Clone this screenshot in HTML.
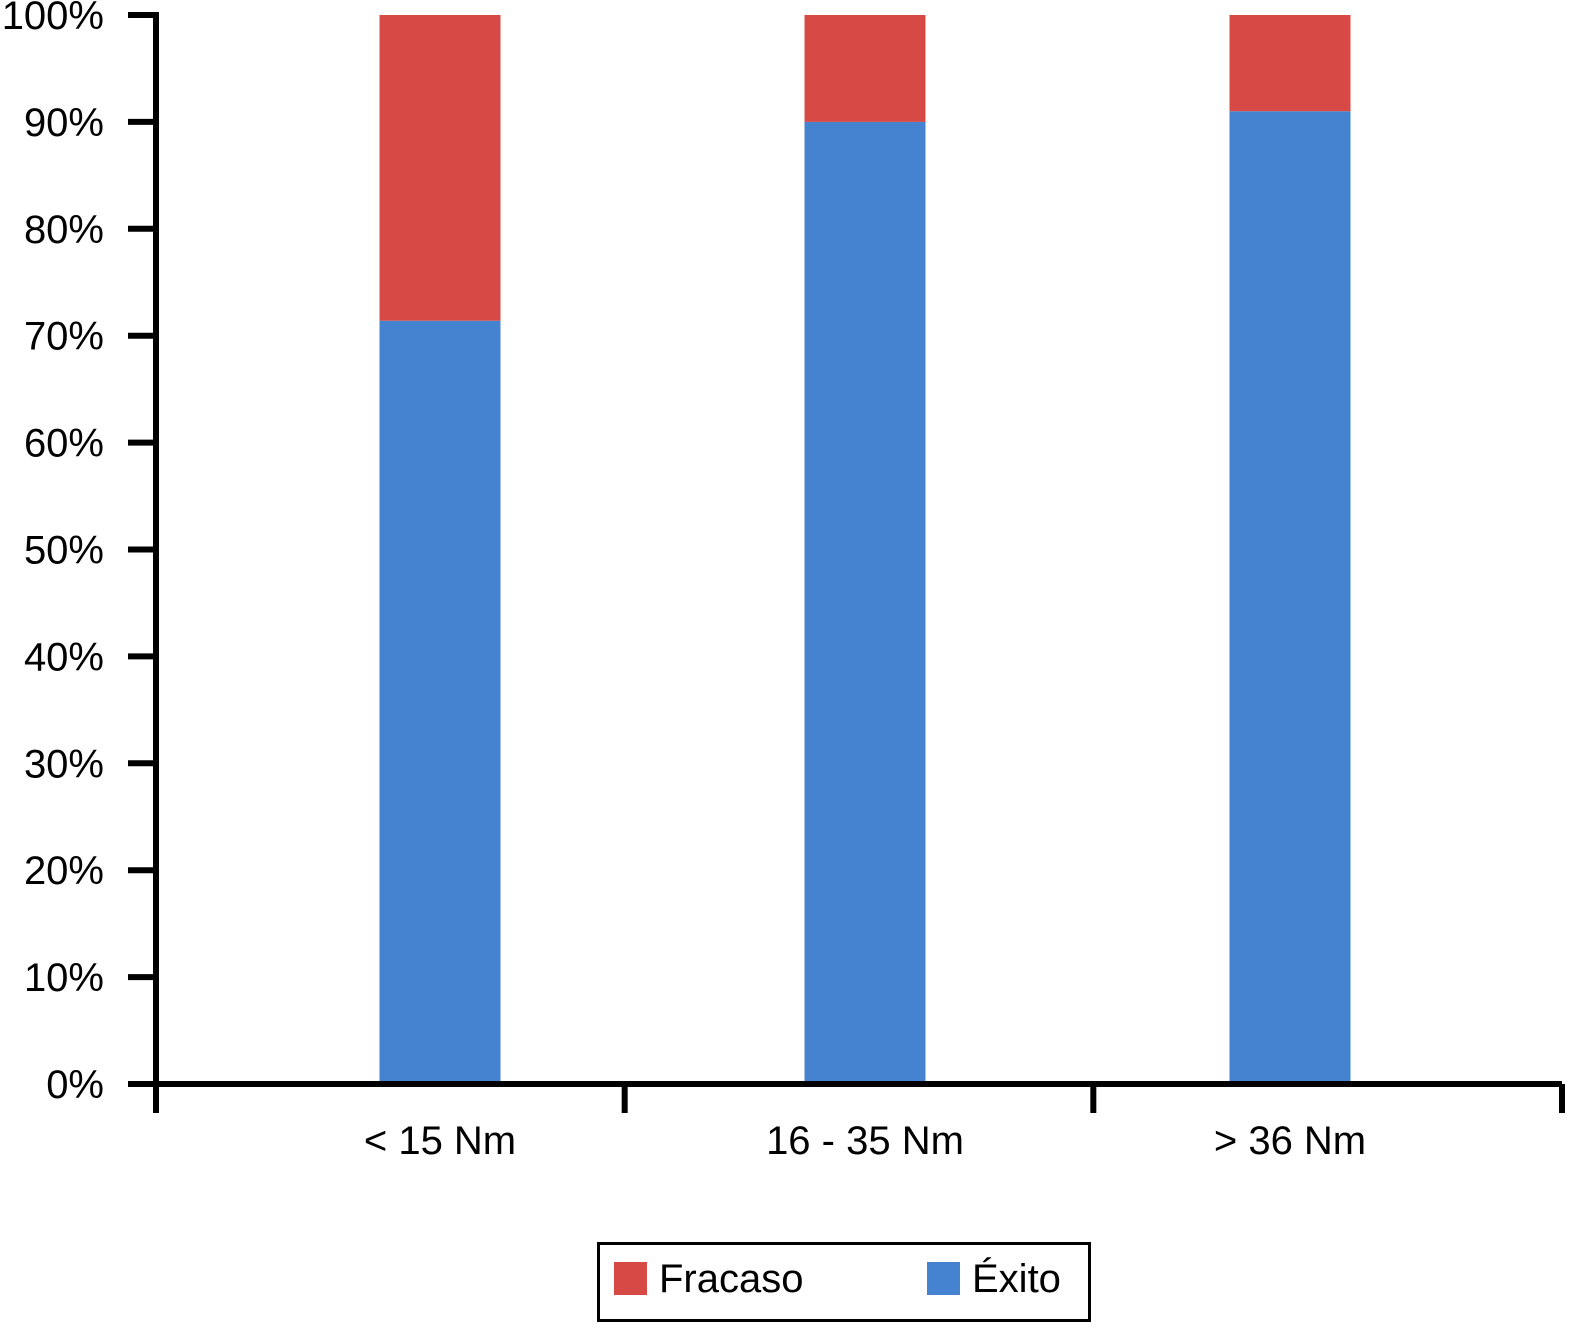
<!DOCTYPE html>
<html><head><meta charset="utf-8"><style>
body{margin:0;background:#fff;}
svg{display:block;font-family:"Liberation Sans",Arial,sans-serif;}
</style></head><body>
<svg id="chart" width="1580" height="1332" viewBox="0 0 1580 1332"></svg>
<script>
const categories = ["< 15 Nm", "16 - 35 Nm", "> 36 Nm"];
const exitoValues = [71.4, 90.0, 91.0];
const fracasoValues = [28.6, 10.0, 9.0];
const yTicks = [0,10,20,30,40,50,60,70,80,90,100];
const yTickLabels = ["0%","10%","20%","30%","40%","50%","60%","70%","80%","90%","100%"];

const NS="http://www.w3.org/2000/svg";
const svg=document.getElementById('chart');
const x0=156,x1=1562,y0=1084,yTop=15;
const y=v=>y0-(v/100)*(y0-yTop);
const band=(x1-x0)/categories.length;
const barStep=425, firstCenter=440;
const xc=i=>firstCenter+barStep*i;
const bw=121;
function mk(t,a){const e=document.createElementNS(NS,t);for(const k in a)e.setAttribute(k,a[k]);svg.appendChild(e);return e;}

categories.forEach((c,i)=>{
  let r=mk('rect',{x:xc(i)-bw/2,y:y(exitoValues[i]),width:bw,height:y(0)-y(exitoValues[i]),fill:'#4583d0'});
  
  
  let r2=mk('rect',{x:xc(i)-bw/2,y:y(exitoValues[i]+fracasoValues[i]),width:bw,height:y(exitoValues[i])-y(exitoValues[i]+fracasoValues[i]),fill:'#d64945'});
  
  
  let t=mk('text',{x:xc(i),y:1154,'font-size':40,'text-anchor':'middle',fill:'#000'});
  t.textContent=c;
  
  
});
yTicks.forEach((v,i)=>{
  let l=mk('line',{x1:128,x2:x0,y1:y(v),y2:y(v),stroke:'#000','stroke-width':6});
  
  
  let t=mk('text',{x:104,y:y(v)+14,'font-size':40,'text-anchor':'end',fill:'#000'});
  t.textContent=yTickLabels[i];
  
  
});
for(let i=0;i<=categories.length;i++){
  let l=mk('line',{x1:x0+band*i,x2:x0+band*i,y1:y0,y2:1113,stroke:'#000','stroke-width':6});
  
  
}
let ya=mk('line',{x1:x0,x2:x0,y1:yTop-3,y2:1113,stroke:'#000','stroke-width':6});


let xa=mk('line',{x1:x0,x2:x1,y1:y0,y2:y0,stroke:'#000','stroke-width':6});


</script>
<div style="position:absolute;left:597px;top:1242px;width:488px;height:74px;border:3px solid #000;font-family:'Liberation Sans',Arial,sans-serif;font-size:40px;">
  <div style="position:absolute;left:14px;top:17px;">
    <span style="position:absolute;left:0;top:0;width:33px;height:33px;background:#d64945;"></span>
    <span style="position:absolute;left:45px;top:-5px;white-space:nowrap;">Fracaso</span>
  </div>
  <div style="position:absolute;left:327px;top:17px;">
    <span style="position:absolute;left:0;top:0;width:33px;height:33px;background:#4583d0;"></span>
    <span style="position:absolute;left:45px;top:-5px;white-space:nowrap;">Éxito</span>
  </div>
</div>
</body></html>
